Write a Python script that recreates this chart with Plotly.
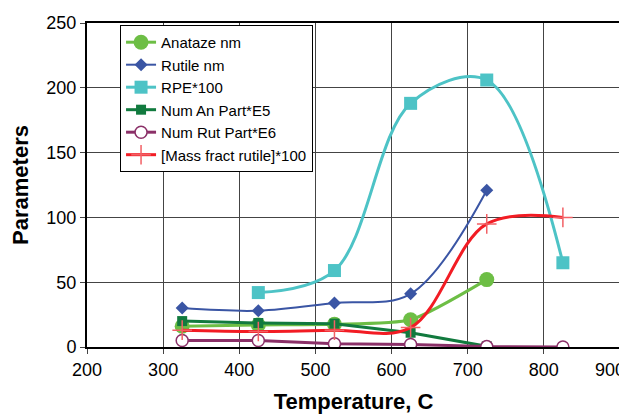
import plotly.graph_objects as go

anatase_x = [325, 425, 525, 625, 725]
anatase_y = [16, 17, 17.5, 21, 52]

rutile_x = [325, 425, 525, 625, 725]
rutile_y = [30, 28, 34, 41, 121]

rpe_x = [425, 525, 625, 725, 825]
rpe_y = [42, 59, 188, 206, 65]

numan_x = [325, 425, 525, 625, 725]
numan_y = [20, 18.5, 18, 11, 0.5]

numrut_x = [325, 425, 525, 625, 725, 825]
numrut_y = [5, 5, 2.5, 2, 0.3, 0]

mass_x = [325, 425, 525, 625, 725, 825]
mass_y = [13, 12, 13, 15, 95, 100]

x_ticks = [200, 300, 400, 500, 600, 700, 800, 900]
x_tick_text = ["200", "300", "400", "500", "600", "700", "800", "900"]
y_ticks = [0, 50, 100, 150, 200, 250]

FONT = "Liberation Sans, Arial, sans-serif"

# the last label is nudged left (as in the reference) by a transparent trailing pad
x_tick_labels = x_tick_text[:-1] + [
    x_tick_text[-1] + "<span style='color:rgba(255,255,255,0)'>00</span>"]

fig = go.Figure()

fig.add_trace(go.Scatter(
    x=anatase_x, y=anatase_y, name="Anataze nm", mode="lines+markers",
    line=dict(color="#6DBE45", width=3, shape="spline", smoothing=0.6),
    marker=dict(symbol="circle", size=15, color="#6DBE45")))

fig.add_trace(go.Scatter(
    x=rutile_x, y=rutile_y, name="Rutile nm", mode="lines+markers",
    line=dict(color="#3A55A4", width=2, shape="spline", smoothing=1),
    marker=dict(symbol="diamond", size=10, color="#3A55A4")))

fig.add_trace(go.Scatter(
    x=rpe_x, y=rpe_y, name="RPE*100", mode="lines+markers",
    line=dict(color="#4DC3C6", width=3, shape="spline", smoothing=1),
    marker=dict(symbol="square", size=13, color="#4DC3C6")))

fig.add_trace(go.Scatter(
    x=numan_x, y=numan_y, name="Num An Part*E5", mode="lines+markers",
    line=dict(color="#117A3E", width=3),
    marker=dict(symbol="square", size=10, color="#117A3E")))

fig.add_trace(go.Scatter(
    x=numrut_x, y=numrut_y, name="Num Rut Part*E6", mode="lines+markers",
    line=dict(color="#8B3068", width=3),
    marker=dict(symbol="circle", size=12, color="white",
                line=dict(color="#8B3068", width=1.5))))

fig.add_trace(go.Scatter(
    x=mass_x, y=mass_y, name="[Mass fract rutile]*100", mode="lines+markers",
    line=dict(color="#F21C24", width=3, shape="spline", smoothing=1),
    marker=dict(symbol="cross-thin", size=14, color="#F26065",
                line=dict(color="#F26065", width=1.5))))

fig.update_layout(
    width=619, height=408,
    margin=dict(l=79, r=7, t=15, b=69),
    paper_bgcolor="white", plot_bgcolor="white",
    font=dict(family=FONT, size=18, color="black"),
    showlegend=True,
    legend=dict(x=0.062, y=0.994, xanchor="left", yanchor="top",
                bgcolor="white", bordercolor="black", borderwidth=1,
                font=dict(family=FONT, size=15), tracegroupgap=0,
                itemwidth=30),
    xaxis=dict(range=[200, 900], tickvals=x_ticks, ticktext=x_tick_labels,
               ticks="outside", ticklen=5,
               automargin=False, ticklabeloverflow="allow",
               showgrid=True, gridcolor="#444", gridwidth=1,
               showline=True, linecolor="black", linewidth=2, mirror=True,
               zeroline=False,
               title=dict(text="<b>Temperature, C</b>", font=dict(size=22))),
    yaxis=dict(range=[0, 250], tickvals=y_ticks, ticks="outside", ticklen=5,
               automargin=False, ticklabeloverflow="allow",
               showgrid=True, gridcolor="#444", gridwidth=1,
               showline=True, linecolor="black", linewidth=2, mirror=True,
               zeroline=False,
               title=dict(text="<b>Parameters</b>", font=dict(size=22))),
)

fig.write_html("out.html")
